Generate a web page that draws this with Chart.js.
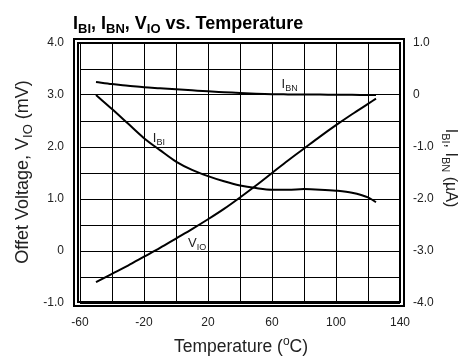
<!DOCTYPE html>
<html><head><meta charset="utf-8">
<script src="https://cdn.jsdelivr.net/npm/chart.js@4"></script>
<style>html,body{margin:0;padding:0;background:#fff}#wrap{width:458px;height:356px}</style>
</head><body><div id="wrap"><canvas id="c" width="458" height="356"></canvas></div>
<script>
// Temperatures (°C)
const temps = [-50,-40,-30,-20,-10,0,10,20,30,40,50,60,70,80,90,100,110,120,125];
// I_BN (µA, right axis)
const ibnValues = [0.25,0.21,0.18,0.15,0.13,0.11,0.09,0.07,0.055,0.04,0.025,0.015,0.012,0.01,0.008,0.005,0.003,0.001,0.0];
// I_BI (µA, right axis)
const ibiValues = [0.0,-0.27,-0.55,-0.83,-1.06,-1.28,-1.44,-1.56,-1.66,-1.74,-1.79,-1.82,-1.82,-1.81,-1.82,-1.84,-1.88,-1.97,-2.06];
// V_IO (mV, left axis)
const vioValues = [-0.6,-0.44,-0.28,-0.11,0.06,0.24,0.42,0.61,0.81,1.03,1.26,1.5,1.74,1.97,2.2,2.42,2.63,2.83,2.93];
// Axis ranges / ticks
const xTicks = [-60,-20,20,60,100,140];
const leftTicks = [-1,0,1,2,3,4];
const rightTicks = [-4,-3,-2,-1,0,1];

const FONT = 'Arial, "Liberation Sans", sans-serif';

function fmt(v){ return v===0 ? '0' : v.toFixed(1); }

function rich(ctx, parts, x, y, size, bold, align){
  const w = bold ? 'bold ' : '';
  const subSize = Math.round(size*0.7);
  let total = 0;
  parts.forEach(p => {
    ctx.font = w + (p[1]==='n' ? size : subSize) + 'px ' + FONT;
    total += ctx.measureText(p[0]).width;
  });
  let cx = align==='center' ? x - total/2 : (align==='right' ? x-total : x);
  ctx.textAlign = 'left';
  ctx.textBaseline = 'alphabetic';
  parts.forEach(p => {
    ctx.font = w + (p[1]==='n' ? size : subSize) + 'px ' + FONT;
    let dy = p[1]==='sub' ? size*0.22 : (p[1]==='sup' ? -size*0.4 : 0);
    ctx.fillText(p[0], cx, y+dy);
    cx += ctx.measureText(p[0]).width;
  });
}

const decor = {
  id:'decor',
  afterDraw(chart){
    const ctx = chart.ctx;
    const xs = chart.scales.x, yl = chart.scales.y;
    ctx.save();
    ctx.strokeStyle = '#000';
    ctx.lineWidth = 2;
    ctx.strokeRect(78, 43, 322, 259);
    ctx.strokeRect(74, 39, 330, 267);
    ctx.fillStyle = '#000';
    // title
    rich(ctx, [['I','n'],['BI','sub'],[', I','n'],['BN','sub'],[', V','n'],['IO','sub'],[' vs. Temperature','n']], 73, 29, 18, true, 'left');
    // in-plot labels
    ctx.fillStyle = '#222';
    rich(ctx, [['I','n'],['BN','sub']], xs.getPixelForValue(66), yl.getPixelForValue(3.14), 13, false, 'left');
    rich(ctx, [['I','n'],['BI','sub']], xs.getPixelForValue(-14.5), yl.getPixelForValue(2.09), 13, false, 'left');
    rich(ctx, [['V','n'],['IO','sub']], xs.getPixelForValue(7.5), yl.getPixelForValue(0.08), 13, false, 'left');
    // x title
    rich(ctx, [['Temperature (','n'],['o','sup'],['C)','n']], 241, 352, 17.5, false, 'center');
    // left title
    ctx.save();
    ctx.translate(28, 172);
    ctx.rotate(-Math.PI/2);
    rich(ctx, [['Offet Voltage, V','n'],['IO','sub'],[' (mV)','n']], 0, 0, 18, false, 'center');
    ctx.restore();
    // right title
    ctx.save();
    ctx.translate(446, 168);
    ctx.rotate(Math.PI/2);
    rich(ctx, [['I','n'],['BI','sub'],[', I','n'],['BN','sub'],[' (\u00b5A)','n']], 0, 0, 16, false, 'center');
    ctx.restore();
    ctx.restore();
  }
};

function pts(vals){ return temps.map((t,i)=>({x:t,y:vals[i]})); }

const lineStyle = {borderColor:'#000', borderWidth:2, pointRadius:0, fill:false, cubicInterpolationMode:'monotone'};

new Chart(document.getElementById('c'), {
  type:'line',
  data:{ datasets:[
    Object.assign({label:'IBN', data:pts(ibnValues), yAxisID:'y2'}, lineStyle),
    Object.assign({label:'IBI', data:pts(ibiValues), yAxisID:'y2'}, lineStyle),
    Object.assign({label:'VIO', data:pts(vioValues), yAxisID:'y'}, lineStyle)
  ]},
  options:{
    responsive:false, devicePixelRatio:1, animation:false,
    layout:{padding:{top:43,left:0,right:0,bottom:0}},
    plugins:{legend:{display:false}, tooltip:{enabled:false}, title:{display:false}},
    scales:{
      x:{type:'linear', min:-60, max:140,
        afterFit(s){ s.height = 53; },
        border:{display:false},
        grid:{color:'#000', lineWidth:1, drawTicks:false},
        ticks:{stepSize:20, autoSkip:false, maxRotation:0, padding:12, color:'#222',
          font:{family:FONT, size:12},
          callback:(v)=> xTicks.includes(v) ? String(v) : ''}
      },
      y:{position:'left', min:-1, max:4,
        afterFit(s){ s.width = 80; },
        border:{display:false},
        grid:{color:'#000', lineWidth:1, drawTicks:false},
        ticks:{stepSize:0.5, autoSkip:false, padding:16, color:'#222',
          font:{family:FONT, size:12},
          callback:(v)=> leftTicks.includes(v) ? fmt(v) : ''}
      },
      y2:{position:'right', min:-4, max:1,
        afterFit(s){ s.width = 58; },
        border:{display:false},
        grid:{display:false, drawTicks:false},
        ticks:{stepSize:0.5, autoSkip:false, padding:13, color:'#222',
          font:{family:FONT, size:12},
          callback:(v)=> rightTicks.includes(v) ? fmt(v) : ''}
      }
    }
  },
  plugins:[decor]
});
</script></body></html>
